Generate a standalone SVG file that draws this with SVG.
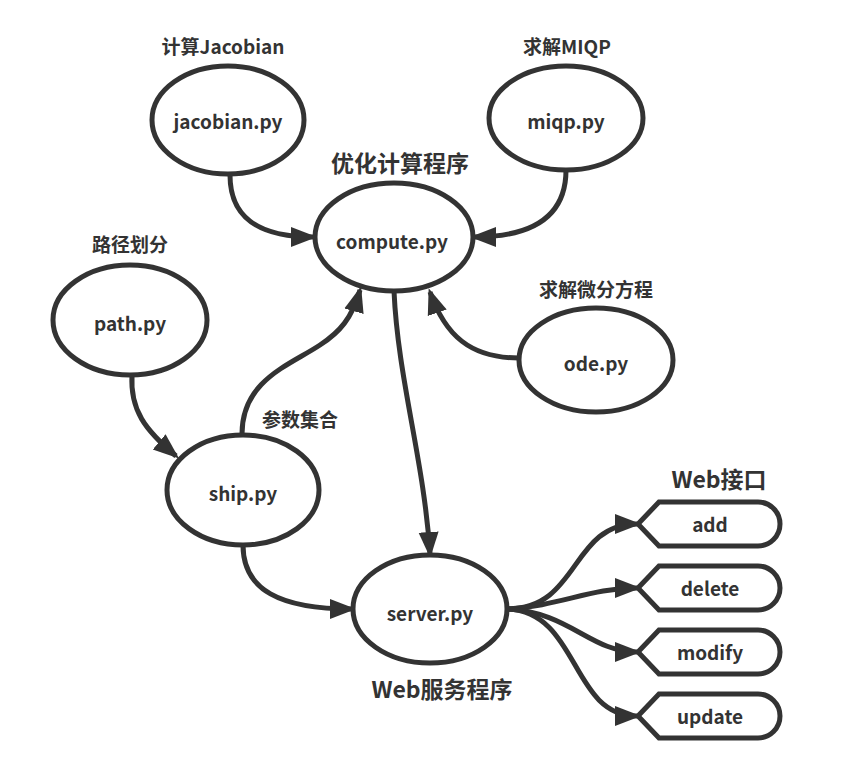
<svg xmlns="http://www.w3.org/2000/svg" width="855" height="772" viewBox="0 0 855 772">
<defs>
<style>
.n{fill:#fff;stroke:#333;stroke-width:5}
.t{font-family:"Noto Sans CJK SC","Noto Sans",sans-serif;font-weight:bold;fill:#333;text-anchor:middle;dominant-baseline:central}
.nt{font-size:19px}
.lb{font-size:19px}
.big{font-size:23px}
.c{fill:none;stroke:#333;stroke-width:5;marker-end:url(#ah)}
</style>
<marker id="ah" markerUnits="userSpaceOnUse" markerWidth="26" markerHeight="22" refX="22" refY="11" orient="auto">
<path d="M0,1 L26,11 L0,21 Z" fill="#333"/>
</marker>
</defs>
<rect width="855" height="772" fill="#fff"/>
<g id="connectors">
<path class="c" d="M230,175 C230,215 255,237 313,237"/>
<path class="c" d="M566,170 C566,215 535,237 474,237"/>
<path class="c" d="M519,358 C470,358 445,335 430,292"/>
<path class="c" d="M242,434 C242,380 290,365 320,345 C340,332 352,318 360,290"/>
<path class="c" d="M132,375 C130,410 145,430 176,456"/>
<path class="c" d="M243,545 C243,590 280,609 352,609"/>
<path class="c" d="M394,291 C398,380 424,460 430,554"/>
<path class="c" d="M507,609 C580,609 570,524 637,524"/>
<path class="c" d="M507,609 C560,606 590,588 637,588"/>
<path class="c" d="M507,609 C570,612 590,652 637,652"/>
<path class="c" d="M507,609 C580,612 570,716 637,716"/>
</g>
<g id="jacobian"><ellipse class="n" cx="228" cy="120" rx="76" ry="54"/><text class="t nt" x="228" y="120">jacobian.py</text></g>
<g id="miqp"><ellipse class="n" cx="566" cy="118" rx="77" ry="52"/><text class="t nt" x="566" y="120">miqp.py</text></g>
<g id="compute"><ellipse class="n" cx="394" cy="237" rx="79" ry="54"/><text class="t nt" x="392" y="240">compute.py</text></g>
<g id="ode"><ellipse class="n" cx="596" cy="360" rx="77" ry="52"/><text class="t nt" x="596" y="362">ode.py</text></g>
<g id="path"><ellipse class="n" cx="130" cy="320" rx="77" ry="55"/><text class="t nt" x="130" y="322">path.py</text></g>
<g id="ship"><ellipse class="n" cx="243" cy="490" rx="76" ry="55"/><text class="t nt" x="243" y="492">ship.py</text></g>
<g id="server"><ellipse class="n" cx="430" cy="609" rx="77" ry="54"/><text class="t nt" x="430" y="612">server.py</text></g>
<g id="add"><path class="n" d="M638,524 L659,502 L758,502 A22,22 0 0 1 758,546 L659,546 Z"/><text class="t nt" x="710" y="523">add</text></g>
<g id="delete"><path class="n" d="M638,588 L659,566 L758,566 A22,22 0 0 1 758,610 L659,610 Z"/><text class="t nt" x="710" y="587">delete</text></g>
<g id="modify"><path class="n" d="M638,652 L659,630 L758,630 A22,22 0 0 1 758,674 L659,674 Z"/><text class="t nt" x="710" y="651">modify</text></g>
<g id="update"><path class="n" d="M638,716 L659,694 L758,694 A22,22 0 0 1 758,738 L659,738 Z"/><text class="t nt" x="710" y="715">update</text></g>
<g id="labels">
<text class="t lb" x="223" y="45">计算Jacobian</text>
<text class="t lb" x="567" y="45">求解MIQP</text>
<text class="t big" x="400" y="162">优化计算程序</text>
<text class="t lb" x="130" y="243">路径划分</text>
<text class="t lb" x="596" y="288">求解微分方程</text>
<text class="t lb" x="300" y="418">参数集合</text>
<text class="t big" x="719" y="478">Web接口</text>
<text class="t big" x="442" y="688">Web服务程序</text>
</g>
</svg>
